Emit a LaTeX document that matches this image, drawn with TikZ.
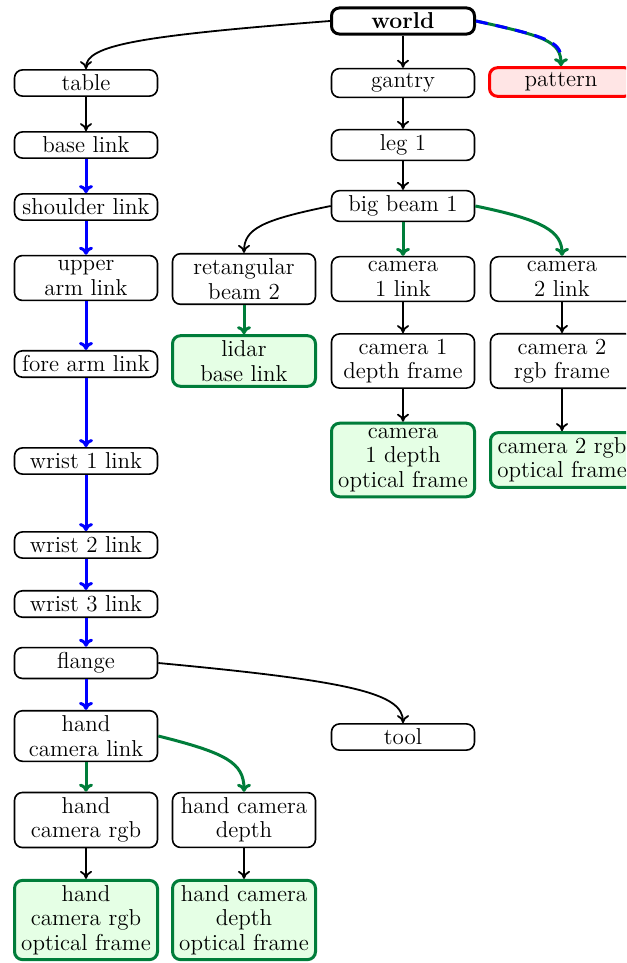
\documentclass[tikz,border=0pt]{standalone}
\usetikzlibrary{arrows.meta}
\definecolor{linkgreen}{RGB}{0,125,58}
\tikzset{
  frame/.style={draw, thick, rounded corners=4pt, minimum width=71.5pt,
    minimum height=13pt, align=center, inner xsep=2pt, inner ysep=2.5pt,
    font=\fontsize{11.5}{12.2}\selectfont},
  root/.style={frame, line width=1.5pt, font=\fontsize{11.5}{12.2}\selectfont\bfseries},
  optical/.style={frame, draw=linkgreen, line width=1.5pt, fill=green!10},
  marker/.style={frame, draw=red, line width=1.5pt, fill=red!10},
  tf/.style={-{To[length=4pt,width=6pt]}, line width=0.9pt},
  arm/.style={-{To[length=4pt,width=7pt]}, line width=1.5pt, blue},
  sensor/.style={-{To[length=4pt,width=7pt]}, line width=1.5pt, linkgreen},
}
\begin{document}
\begin{tikzpicture}[x=0.5pt, y=-0.5pt]
\clip (0,0) rectangle (626,963);

% fixed frames and the gantry
\node[root]    (world)   at (403,21)  {world};
\node[frame]   (table)   at (86,83)   {table};
\node[frame]   (gantry)  at (403,83)  {gantry};
\node[marker]  (pattern) at (561,82)  {pattern};
\node[frame]   (leg)     at (403,145) {leg 1};
\node[frame]   (beam)    at (403,206) {big beam 1};
\node[frame]   (rbeam)   at (244,279) {retangular\\beam 2};
\node[frame]   (cam1)    at (403,279) {camera\\1 link};
\node[frame]   (cam2)    at (562,279) {camera\\2 link};
\node[optical] (lidar)   at (244,361) {lidar\\base link};
\node[frame]   (cam1d)   at (403,361) {camera 1\\depth frame};
\node[frame]   (cam2r)   at (562,361) {camera 2\\rgb frame};
\node[optical] (cam1do)  at (403,460) {camera\\1 depth\\optical frame};
\node[optical] (cam2ro)  at (562,460) {camera 2 rgb\\optical frame};

% robot arm chain
\node[frame]   (base)     at (86,145) {base link};
\node[frame]   (shoulder) at (86,207) {shoulder link};
\node[frame]   (upper)    at (86,278) {upper\\arm link};
\node[frame]   (fore)     at (86,364) {fore arm link};
\node[frame]   (wrist1)   at (86,461) {wrist 1 link};
\node[frame]   (wrist2)   at (86,545) {wrist 2 link};
\node[frame]   (wrist3)   at (86,604) {wrist 3 link};
\node[frame]   (flange)   at (86,663) {flange};
\node[frame]   (tool)     at (403,737) {tool};
\node[frame]   (hcam)     at (86,736) {hand\\camera link};
\node[frame]   (hrgb)     at (86,820) {hand\\camera rgb};
\node[frame]   (hdep)     at (244,820) {hand camera\\depth};
\node[optical] (hrgbo)    at (86,920) {hand\\camera rgb\\optical frame};
\node[optical] (hdepo)    at (244,920) {hand camera\\depth\\optical frame};

% connectors (y grows downwards here, so control offsets are in the same units)
\draw[tf] (world.west) .. controls +(-192,15) and +(0,-24) .. (table.north);
\draw[tf] (world) -- (gantry);
\draw[sensor] (world.east) .. controls +(68,15) and +(0,-25) .. (pattern.north);
\draw[line width=1.5pt, blue, dash pattern=on 6pt off 4pt, shorten >=4pt]
  (world.east) .. controls +(68,15) and +(0,-25) .. (pattern.north);
\draw[tf] (gantry) -- (leg);
\draw[tf] (leg) -- (beam);
\draw[tf] (beam.west) .. controls +(-69,14) and +(0,-24) .. (rbeam.north);
\draw[sensor] (beam) -- (cam1);
\draw[sensor] (beam.east) .. controls +(69,14) and +(0,-24) .. (cam2.north);
\draw[sensor] (rbeam) -- (lidar);
\draw[tf] (cam1) -- (cam1d);
\draw[tf] (cam1d) -- (cam1do);
\draw[tf] (cam2) -- (cam2r);
\draw[tf] (cam2r) -- (cam2ro);

\draw[tf]  (table) -- (base);
\draw[arm] (base) -- (shoulder);
\draw[arm] (shoulder) -- (upper);
\draw[arm] (upper) -- (fore);
\draw[arm] (fore) -- (wrist1);
\draw[arm] (wrist1) -- (wrist2);
\draw[arm] (wrist2) -- (wrist3);
\draw[arm] (wrist3) -- (flange);
\draw[arm] (flange) -- (hcam);
\draw[tf]  (flange.east) .. controls +(192,18) and +(0,-30) .. (tool.north);
\draw[sensor] (hcam) -- (hrgb);
\draw[sensor] (hcam.east) .. controls +(68,17) and +(0,-29) .. (hdep.north);
\draw[tf] (hrgb) -- (hrgbo);
\draw[tf] (hdep) -- (hdepo);
\end{tikzpicture}
\end{document}
